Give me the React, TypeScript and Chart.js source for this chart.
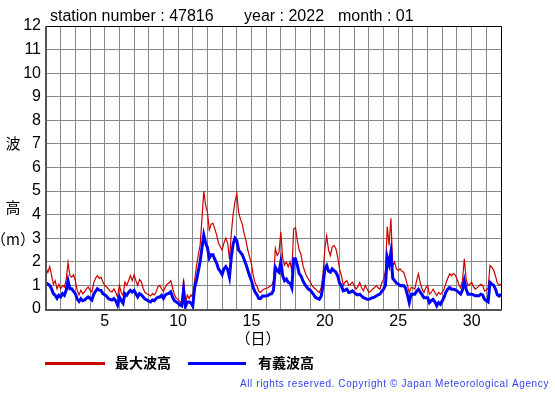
import React, { useEffect, useRef } from "react";
import { Chart, registerables } from "chart.js";

Chart.register(...registerables);

// time step of the samples below (3 hours, in days), starting at day 1
const START_DAY = 1;
const STEP = 1 / 8;

const maxWave: number[] = [
  // day 1
  1.75, 1.55, 1.8, 1.45, 1.05, 1.2, 0.85, 1.05,
  // day 2
  0.86, 1.0, 0.93, 1.25, 1.97, 1.42, 1.35, 1.45,
  // day 3
  1.2, 0.8, 0.6, 0.8, 0.65, 0.72, 0.85, 0.93,
  // day 4
  0.8, 0.72, 1.1, 1.3, 1.42, 1.3, 1.35, 1.14,
  // day 5
  1.0, 0.93, 0.86, 0.75, 0.72, 0.86, 0.7, 0.51,
  // day 6
  1.0, 0.7, 0.58, 1.14, 1.0, 1.2, 1.42, 1.2,
  // day 7
  1.45, 1.2, 1.0, 1.25, 1.15, 0.86, 0.7, 0.65,
  // day 8
  0.6, 0.55, 0.65, 0.6, 0.72, 0.95, 1.0, 0.86,
  // day 9
  0.73, 0.92, 1.05, 1.1, 1.2, 0.9, 0.6, 0.45,
  // day 10
  0.4, 0.31, 0.24, 1.26, 0.24, 0.59, 0.45, 0.6,
  // day 11
  0.5, 1.2, 1.8, 2.3, 2.7, 3.8, 5.0, 4.4,
  // day 12
  4.1, 3.35, 3.6, 3.63, 3.4, 3.14, 2.8, 2.64,
  // day 13
  2.5, 2.8, 3.0, 2.8, 2.1, 3.2, 4.0, 4.55,
  // day 14
  4.9, 4.1, 3.8, 3.6, 3.2, 2.9, 2.5, 2.2,
  // day 15
  1.9, 1.4, 1.1, 0.96, 0.75, 0.7, 0.8, 0.85,
  // day 16
  0.88, 0.9, 0.96, 1.0, 1.2, 2.56, 2.27, 2.4,
  // day 17
  3.27, 2.14, 1.86, 2.0, 1.79, 2.0, 1.6, 3.4,
  // day 18
  3.45, 2.9, 2.5, 2.3, 1.86, 1.6, 1.41, 1.27,
  // day 19
  1.15, 1.0, 0.9, 0.84, 0.75, 0.7, 0.9, 1.5,
  // day 20
  2.56, 3.1, 2.5, 2.27, 2.63, 2.7, 2.56, 2.2,
  // day 21
  1.7, 1.41, 1.0, 1.15, 1.2, 1.0, 1.05, 1.13,
  // day 22
  1.0, 0.84, 0.95, 1.13, 0.9, 0.77, 1.0, 0.85,
  // day 23
  0.7, 0.75, 0.84, 0.9, 1.0, 0.9, 0.84, 1.1,
  // day 24
  1.25, 1.6, 3.5, 2.7, 3.85, 1.8, 2.0, 1.7,
  // day 25
  1.63, 1.7, 1.6, 1.56, 1.3, 1.0, 0.7, 0.91,
  // day 26
  0.9, 0.84, 1.2, 1.5, 1.1, 0.85, 0.7, 0.9,
  // day 27
  0.99, 0.63, 0.7, 0.84, 0.7, 0.56, 0.7, 0.63,
  // day 28
  0.7, 0.85, 1.1, 1.3, 1.49, 1.41, 1.5, 1.45,
  // day 29
  1.27, 1.05, 0.91, 1.2, 2.13, 1.27, 0.99, 1.05,
  // day 30
  1.13, 0.95, 0.84, 0.9, 0.99, 1.05, 1.0, 0.77,
  // day 31
  0.8, 0.9, 1.84, 1.77, 1.65, 1.4, 1.1, 1.0,
  // day 32 00h
  1.06,
];

const sigWave: number[] = [
  // day 1
  1.1, 1.05, 1.0, 0.86, 0.65, 0.58, 0.45, 0.58,
  // day 2
  0.51, 0.65, 0.58, 0.8, 1.2, 0.86, 0.86, 0.75,
  // day 3
  0.65, 0.42, 0.32, 0.44, 0.35, 0.38, 0.45, 0.51,
  // day 4
  0.45, 0.38, 0.62, 0.75, 0.86, 0.8, 0.79, 0.65,
  // day 5
  0.6, 0.55, 0.44, 0.4, 0.38, 0.44, 0.35, 0.17,
  // day 6
  0.51, 0.35, 0.24, 0.65, 0.58, 0.7, 0.79, 0.72,
  // day 7
  0.79, 0.65, 0.51, 0.65, 0.6, 0.51, 0.42, 0.38,
  // day 8
  0.33, 0.3, 0.38, 0.35, 0.44, 0.5, 0.51, 0.58,
  // day 9
  0.45, 0.59, 0.64, 0.66, 0.73, 0.5, 0.35, 0.3,
  // day 10
  0.25, 0.17, 0.13, 0.8, 0.1, 0.3, 0.3, 0.25,
  // day 11
  0.12, 0.9, 1.2, 1.6, 2.0, 2.6, 3.14, 2.8,
  // day 12
  2.6, 2.16, 2.3, 2.3, 2.1, 1.95, 1.7, 1.6,
  // day 13
  1.46, 1.7, 1.8, 1.67, 1.35, 2.2, 2.75, 3.0,
  // day 14
  2.9, 2.5, 2.4, 2.3, 2.1, 1.9, 1.65, 1.4,
  // day 15
  1.2, 0.9, 0.72, 0.6, 0.45, 0.45, 0.55, 0.55,
  // day 16
  0.55, 0.58, 0.63, 0.65, 0.8, 1.77, 1.63, 1.56,
  // day 17
  2.0, 1.41, 1.2, 1.27, 1.13, 1.1, 0.9, 2.13,
  // day 18
  2.13, 1.85, 1.5, 1.4, 1.2, 1.05, 0.95, 0.84,
  // day 19
  0.8, 0.7, 0.6, 0.48, 0.45, 0.41, 0.55, 1.0,
  // day 20
  1.7, 1.84, 1.6, 1.56, 1.7, 1.63, 1.56, 1.4,
  // day 21
  1.1, 0.99, 0.77, 0.8, 0.84, 0.7, 0.72, 0.77,
  // day 22
  0.7, 0.63, 0.6, 0.63, 0.55, 0.48, 0.45, 0.41,
  // day 23
  0.41, 0.45, 0.48, 0.5, 0.55, 0.6, 0.63, 0.75,
  // day 24
  0.84, 1.0, 2.2, 1.9, 2.41, 1.3, 1.2, 1.1,
  // day 25
  1.06, 0.99, 1.0, 0.99, 0.88, 0.6, 0.27, 0.63,
  // day 26
  0.63, 0.63, 0.75, 0.84, 0.72, 0.6, 0.48, 0.48,
  // day 27
  0.48, 0.27, 0.35, 0.41, 0.3, 0.13, 0.27, 0.2,
  // day 28
  0.35, 0.5, 0.72, 0.85, 0.91, 0.84, 0.84, 0.82,
  // day 29
  0.77, 0.7, 0.63, 0.8, 1.2, 0.84, 0.63, 0.63,
  // day 30
  0.63, 0.6, 0.56, 0.56, 0.56, 0.63, 0.6, 0.41,
  // day 31
  0.35, 0.3, 1.13, 1.06, 1.0, 0.85, 0.6, 0.55,
  // day 32 00h
  0.63,
];

const xTickLabels = [5, 10, 15, 20, 25, 30];
const titleParts = ["station number : 47816", "year : 2022", "month : 01"];
const yAxisLabels = ["波", "高", "（m）"];
const xAxisLabel = "（日）";
const legendLabels = ["最大波高", "有義波高"];
const copyright = "All rights reserved. Copyright © Japan Meteorological Agency";

const RED = "#cc0000";
const BLUE = "#0000ff";
const LATIN = '"Liberation Sans", Arial, sans-serif';
const CJK = '"Noto Sans CJK JP", sans-serif';

const textPlugin = {
  id: "textPlugin",
  afterDraw(chart: any) {
    const ctx = chart.ctx as CanvasRenderingContext2D;
    const area = chart.chartArea;
    ctx.save();
    // frame
    ctx.strokeStyle = "#000";
    ctx.lineWidth = 1;
    ctx.beginPath();
    ctx.moveTo(area.left, area.top + 0.5);
    ctx.lineTo(area.right + 0.5, area.top + 0.5);
    ctx.lineTo(area.right + 0.5, area.bottom);
    ctx.stroke();
    ctx.strokeStyle = "#555";
    ctx.lineWidth = 2;
    ctx.beginPath();
    ctx.moveTo(area.left, area.top);
    ctx.lineTo(area.left, area.bottom + 1);
    ctx.lineTo(area.right + 1, area.bottom + 1);
    ctx.stroke();

    // title
    ctx.fillStyle = "#000";
    ctx.font = `16px ${LATIN}`;
    ctx.textBaseline = "alphabetic";
    ctx.textAlign = "left";
    ctx.fillText(titleParts[0], 50, 21);
    ctx.fillText(titleParts[1], 244, 21);
    ctx.fillText(titleParts[2], 338, 21);

    // y axis label
    ctx.font = `15px ${CJK}`;
    ctx.textBaseline = "middle";
    ctx.textAlign = "center";
    ctx.fillText(yAxisLabels[0], 13, 143);
    ctx.fillText(yAxisLabels[1], 13, 207);
    ctx.fillText(yAxisLabels[2], 13, 239);

    // x axis label
    ctx.fillText(xAxisLabel, 258, 338);

    // legend
    ctx.lineWidth = 3;
    ctx.strokeStyle = RED;
    ctx.beginPath();
    ctx.moveTo(45, 363.5);
    ctx.lineTo(105, 363.5);
    ctx.stroke();
    ctx.strokeStyle = BLUE;
    ctx.beginPath();
    ctx.moveTo(188, 363.5);
    ctx.lineTo(246, 363.5);
    ctx.stroke();
    ctx.font = `bold 14px ${CJK}`;
    ctx.textAlign = "left";
    ctx.fillStyle = "#000";
    ctx.fillText(legendLabels[0], 115, 363);
    ctx.fillText(legendLabels[1], 258, 363);

    // copyright
    ctx.font = `10px ${LATIN}`;
    ctx.fillStyle = "#3344ee";
    const w = ctx.measureText(copyright).width;
    const spacing = (309 - w) / copyright.length;
    (ctx as any).letterSpacing = `${spacing}px`;
    ctx.fillText(copyright, 240, 384);
    ctx.restore();
  },
};

export default function App() {
  const ref = useRef<HTMLCanvasElement | null>(null);
  useEffect(() => {
    if (!ref.current) return;
    const chart = new Chart(ref.current, {
      type: "line",
      data: {
        datasets: [
          {
            label: legendLabels[1],
            data: sigWave.map((v, i) => ({ x: START_DAY + i * STEP, y: v })),
            borderColor: BLUE,
            borderWidth: 3,
            pointRadius: 0,
            tension: 0,
          },
          {
            label: legendLabels[0],
            data: maxWave.map((v, i) => ({ x: START_DAY + i * STEP, y: v })),
            borderColor: RED,
            borderWidth: 1.2,
            pointRadius: 0,
            tension: 0,
          },
        ],
      },
      options: {
        animation: false,
        responsive: false,
        layout: { padding: { top: 26, right: 54, left: 0, bottom: 0 } },
        plugins: { legend: { display: false }, tooltip: { enabled: false }, title: { display: false } },
        scales: {
          x: {
            type: "linear",
            min: 1,
            max: 32,
            afterFit: (s: any) => {
              s.height = 86;
            },
            afterBuildTicks: (s: any) => {
              const t = [];
              for (let d = 1; d <= 32; d++) t.push({ value: d });
              s.ticks = t;
            },
            ticks: {
              autoSkip: false,
              maxRotation: 0,
              padding: 3,
              color: "#000",
              font: { family: LATIN, size: 16 },
              callback: (v: any) => (xTickLabels.includes(Number(v)) ? String(v) : ""),
            },
            grid: { color: "#888888", lineWidth: 1, drawTicks: false },
            border: { display: false },
          },
          y: {
            min: 0,
            max: 12,
            afterFit: (s: any) => {
              s.width = 46;
            },
            ticks: {
              stepSize: 1,
              padding: 5,
              color: "#000",
              font: { family: LATIN, size: 16 },
            },
            grid: { color: "#888888", lineWidth: 1, drawTicks: false },
            border: { display: false },
          },
        },
      },
      plugins: [textPlugin],
    });
    return () => chart.destroy();
  }, []);
  return (
    <div style={{ position: "absolute", left: 0, top: 0, width: 555, height: 395, background: "#fff" }}>
      <canvas ref={ref} width={555} height={395} style={{ width: 555, height: 395, display: "block" }} />
    </div>
  );
}
